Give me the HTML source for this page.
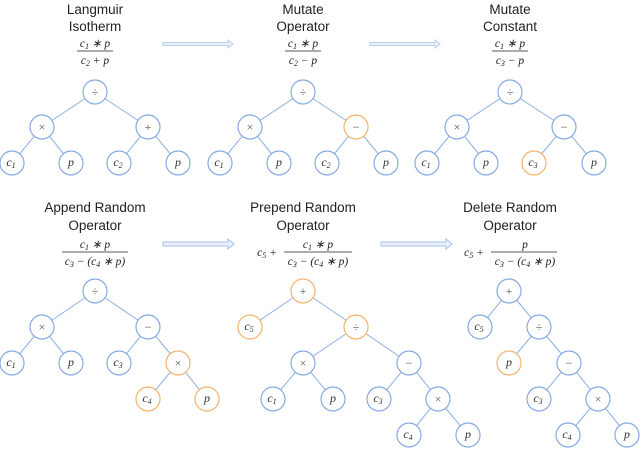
<!DOCTYPE html>
<html><head><meta charset="utf-8"><style>
html,body{margin:0;padding:0;background:#fff;width:640px;height:463px;overflow:hidden}
svg{display:block}
.t{font-family:"Liberation Sans",sans-serif;font-size:13.5px;fill:#222;text-anchor:middle}
.m{font-family:"Liberation Serif",serif;font-style:italic;font-size:11.5px;fill:#222;text-anchor:middle}
.o{font-family:"Liberation Serif",serif;font-size:12px;fill:#555;text-anchor:middle}
.e{stroke:#8fb0e6;stroke-width:1}
.b{fill:#fff;stroke:#86a9e4;stroke-width:1.2}
.r{fill:#fff;stroke:#f5b36e;stroke-width:1.2}
.l{font-family:"Liberation Serif",serif;font-style:italic;font-size:12px;fill:#333;text-anchor:middle}
.s{font-size:8px}
.a{fill:#eaf0fb;stroke:#a9c2ea;stroke-width:1}
</style></head><body>
<svg width="640" height="463" viewBox="0 0 640 463" xmlns="http://www.w3.org/2000/svg">
<text class="t" x="95" y="14">Langmuir</text><text class="t" x="95" y="31">Isotherm</text>
<text class="t" x="303" y="14">Mutate</text><text class="t" x="303" y="31">Operator</text>
<text class="t" x="510" y="14">Mutate</text><text class="t" x="510" y="31">Constant</text>
<text class="t" x="95" y="212">Append Random</text><text class="t" x="95" y="230">Operator</text>
<text class="t" x="303" y="212">Prepend Random</text><text class="t" x="303" y="230">Operator</text>
<text class="t" x="510" y="212">Delete Random</text><text class="t" x="510" y="230">Operator</text>
<g>
<text class="m" x="95" y="47">c<tspan class="s" dy="2">1</tspan><tspan dy="-2"> ∗ p</tspan></text>
<line x1="77" y1="51" x2="113" y2="51" stroke="#222" stroke-width="0.8"/>
<text class="m" x="95" y="64">c<tspan class="s" dy="2">2</tspan><tspan dy="-2"> + p</tspan></text>
<text class="m" x="303" y="47">c<tspan class="s" dy="2">1</tspan><tspan dy="-2"> ∗ p</tspan></text>
<line x1="285" y1="51" x2="321" y2="51" stroke="#222" stroke-width="0.8"/>
<text class="m" x="303" y="64">c<tspan class="s" dy="2">2</tspan><tspan dy="-2"> − p</tspan></text>
<text class="m" x="510" y="47">c<tspan class="s" dy="2">1</tspan><tspan dy="-2"> ∗ p</tspan></text>
<line x1="492" y1="51" x2="528" y2="51" stroke="#222" stroke-width="0.8"/>
<text class="m" x="510" y="64">c<tspan class="s" dy="2">3</tspan><tspan dy="-2"> − p</tspan></text>

<text class="m" x="95" y="248">c<tspan class="s" dy="2">1</tspan><tspan dy="-2"> ∗ p</tspan></text>
<line x1="62" y1="252" x2="128" y2="252" stroke="#222" stroke-width="0.8"/>
<text class="m" x="95" y="265">c<tspan class="s" dy="2">3</tspan><tspan dy="-2"> − (c</tspan><tspan class="s" dy="2">4</tspan><tspan dy="-2"> ∗ p)</tspan></text>

<text class="m" x="267" y="256">c<tspan class="s" dy="2">5</tspan><tspan dy="-2"> +</tspan></text>
<text class="m" x="318" y="248">c<tspan class="s" dy="2">1</tspan><tspan dy="-2"> ∗ p</tspan></text>
<line x1="284" y1="252" x2="352" y2="252" stroke="#222" stroke-width="0.8"/>
<text class="m" x="318" y="265">c<tspan class="s" dy="2">3</tspan><tspan dy="-2"> − (c</tspan><tspan class="s" dy="2">4</tspan><tspan dy="-2"> ∗ p)</tspan></text>

<text class="m" x="474" y="256">c<tspan class="s" dy="2">5</tspan><tspan dy="-2"> +</tspan></text>
<text class="m" x="525" y="248">p</text>
<line x1="491" y1="252" x2="557" y2="252" stroke="#222" stroke-width="0.8"/>
<text class="m" x="525" y="265">c<tspan class="s" dy="2">3</tspan><tspan dy="-2"> − (c</tspan><tspan class="s" dy="2">4</tspan><tspan dy="-2"> ∗ p)</tspan></text>
</g>
<path class="a" d="M163 42.5 H228 V40 L233 44 L228 48 V45.5 H163 Z" opacity="0.8"/>
<path class="a" d="M370 42.5 H435 V40 L440 44 L435 48 V45.5 H370 Z" opacity="0.8"/>
<path class="a" d="M163 242 H228 V239 L234 244 L228 249 V246 H163 Z"/>
<path class="a" d="M381 242 H446 V239 L452 244 L446 249 V246 H381 Z"/>

<g class="e">
<line x1="95" y1="92" x2="42" y2="127"/><line x1="95" y1="92" x2="148" y2="127"/>
<line x1="42" y1="127" x2="12" y2="163"/><line x1="42" y1="127" x2="71" y2="163"/>
<line x1="148" y1="127" x2="119" y2="163"/><line x1="148" y1="127" x2="178" y2="163"/>
<line x1="303" y1="92" x2="250" y2="127"/><line x1="303" y1="92" x2="356" y2="127"/>
<line x1="250" y1="127" x2="220" y2="163"/><line x1="250" y1="127" x2="279" y2="163"/>
<line x1="356" y1="127" x2="327" y2="163"/><line x1="356" y1="127" x2="386" y2="163"/>
<line x1="510" y1="92" x2="457" y2="127"/><line x1="510" y1="92" x2="564" y2="127"/>
<line x1="457" y1="127" x2="427" y2="163"/><line x1="457" y1="127" x2="486" y2="163"/>
<line x1="564" y1="127" x2="534" y2="163"/><line x1="564" y1="127" x2="594" y2="163"/>
<line x1="95" y1="291" x2="42" y2="327"/><line x1="95" y1="291" x2="148" y2="327"/>
<line x1="42" y1="327" x2="12" y2="363"/><line x1="42" y1="327" x2="71" y2="363"/>
<line x1="148" y1="327" x2="119" y2="363"/><line x1="148" y1="327" x2="178" y2="363"/>
<line x1="178" y1="363" x2="148" y2="399"/><line x1="178" y1="363" x2="207" y2="399"/>
<line x1="303" y1="291" x2="250" y2="327"/><line x1="303" y1="291" x2="356" y2="327"/>
<line x1="356" y1="327" x2="303" y2="363"/><line x1="356" y1="327" x2="409" y2="363"/>
<line x1="303" y1="363" x2="273" y2="399"/><line x1="303" y1="363" x2="333" y2="399"/>
<line x1="409" y1="363" x2="379" y2="399"/><line x1="409" y1="363" x2="438" y2="399"/>
<line x1="438" y1="399" x2="409" y2="435"/><line x1="438" y1="399" x2="468" y2="435"/>
<line x1="509" y1="291" x2="480" y2="327"/><line x1="509" y1="291" x2="539" y2="327"/>
<line x1="539" y1="327" x2="509" y2="363"/><line x1="539" y1="327" x2="569" y2="363"/>
<line x1="569" y1="363" x2="539" y2="399"/><line x1="569" y1="363" x2="598" y2="399"/>
<line x1="598" y1="399" x2="568" y2="435"/><line x1="598" y1="399" x2="627" y2="435"/>
</g>

<circle class="b" cx="95" cy="92" r="12"/><text class="o" x="95" y="96">÷</text>
<circle class="b" cx="42" cy="127" r="12"/><text class="o" x="42" y="131">×</text>
<circle class="b" cx="148" cy="127" r="12"/><text class="o" x="148" y="131">+</text>
<circle class="b" cx="12" cy="163" r="12"/><text class="l" x="11" y="166">c<tspan class="s" dy="2">1</tspan></text>
<circle class="b" cx="71" cy="163" r="12"/><text class="l" x="71" y="166">p</text>
<circle class="b" cx="119" cy="163" r="12"/><text class="l" x="118" y="166">c<tspan class="s" dy="2">2</tspan></text>
<circle class="b" cx="178" cy="163" r="12"/><text class="l" x="178" y="166">p</text>
<circle class="b" cx="303" cy="92" r="12"/><text class="o" x="303" y="96">÷</text>
<circle class="b" cx="250" cy="127" r="12"/><text class="o" x="250" y="131">×</text>
<circle class="r" cx="356" cy="127" r="12"/><text class="o" x="356" y="131">−</text>
<circle class="b" cx="220" cy="163" r="12"/><text class="l" x="219" y="166">c<tspan class="s" dy="2">1</tspan></text>
<circle class="b" cx="279" cy="163" r="12"/><text class="l" x="279" y="166">p</text>
<circle class="b" cx="327" cy="163" r="12"/><text class="l" x="326" y="166">c<tspan class="s" dy="2">2</tspan></text>
<circle class="b" cx="386" cy="163" r="12"/><text class="l" x="386" y="166">p</text>
<circle class="b" cx="510" cy="92" r="12"/><text class="o" x="510" y="96">÷</text>
<circle class="b" cx="457" cy="127" r="12"/><text class="o" x="457" y="131">×</text>
<circle class="b" cx="564" cy="127" r="12"/><text class="o" x="564" y="131">−</text>
<circle class="b" cx="427" cy="163" r="12"/><text class="l" x="426" y="166">c<tspan class="s" dy="2">1</tspan></text>
<circle class="b" cx="486" cy="163" r="12"/><text class="l" x="486" y="166">p</text>
<circle class="r" cx="534" cy="163" r="12"/><text class="l" x="533" y="166">c<tspan class="s" dy="2">3</tspan></text>
<circle class="b" cx="594" cy="163" r="12"/><text class="l" x="594" y="166">p</text>
<circle class="b" cx="95" cy="291" r="12"/><text class="o" x="95" y="295">÷</text>
<circle class="b" cx="42" cy="327" r="12"/><text class="o" x="42" y="331">×</text>
<circle class="b" cx="148" cy="327" r="12"/><text class="o" x="148" y="331">−</text>
<circle class="b" cx="12" cy="363" r="12"/><text class="l" x="11" y="366">c<tspan class="s" dy="2">1</tspan></text>
<circle class="b" cx="71" cy="363" r="12"/><text class="l" x="71" y="366">p</text>
<circle class="b" cx="119" cy="363" r="12"/><text class="l" x="118" y="366">c<tspan class="s" dy="2">3</tspan></text>
<circle class="r" cx="178" cy="363" r="12"/><text class="o" x="178" y="367">×</text>
<circle class="r" cx="148" cy="399" r="12"/><text class="l" x="147" y="402">c<tspan class="s" dy="2">4</tspan></text>
<circle class="r" cx="207" cy="399" r="12"/><text class="l" x="207" y="402">p</text>
<circle class="r" cx="303" cy="291" r="12"/><text class="o" x="303" y="295">+</text>
<circle class="r" cx="250" cy="327" r="12"/><text class="l" x="249" y="330">c<tspan class="s" dy="2">5</tspan></text>
<circle class="r" cx="356" cy="327" r="12"/><text class="o" x="356" y="331">÷</text>
<circle class="b" cx="303" cy="363" r="12"/><text class="o" x="303" y="367">×</text>
<circle class="b" cx="409" cy="363" r="12"/><text class="o" x="409" y="367">−</text>
<circle class="b" cx="273" cy="399" r="12"/><text class="l" x="272" y="402">c<tspan class="s" dy="2">1</tspan></text>
<circle class="b" cx="333" cy="399" r="12"/><text class="l" x="333" y="402">p</text>
<circle class="b" cx="379" cy="399" r="12"/><text class="l" x="378" y="402">c<tspan class="s" dy="2">3</tspan></text>
<circle class="b" cx="438" cy="399" r="12"/><text class="o" x="438" y="403">×</text>
<circle class="b" cx="409" cy="435" r="12"/><text class="l" x="408" y="438">c<tspan class="s" dy="2">4</tspan></text>
<circle class="b" cx="468" cy="435" r="12"/><text class="l" x="468" y="438">p</text>
<circle class="b" cx="509" cy="291" r="12"/><text class="o" x="509" y="295">+</text>
<circle class="b" cx="480" cy="327" r="12"/><text class="l" x="479" y="330">c<tspan class="s" dy="2">5</tspan></text>
<circle class="b" cx="539" cy="327" r="12"/><text class="o" x="539" y="331">÷</text>
<circle class="r" cx="509" cy="363" r="12"/><text class="l" x="509" y="366">p</text>
<circle class="b" cx="569" cy="363" r="12"/><text class="o" x="569" y="367">−</text>
<circle class="b" cx="539" cy="399" r="12"/><text class="l" x="538" y="402">c<tspan class="s" dy="2">3</tspan></text>
<circle class="b" cx="598" cy="399" r="12"/><text class="o" x="598" y="403">×</text>
<circle class="b" cx="568" cy="435" r="12"/><text class="l" x="567" y="438">c<tspan class="s" dy="2">4</tspan></text>
<circle class="b" cx="627" cy="435" r="12"/><text class="l" x="627" y="438">p</text>
<text x="0" y="473" font-family="Liberation Serif,serif" font-size="12" fill="#222">Figure 1: Illustrative examples of mutation operators applied to the Langmuir isotherm tree, showing each modification and resulting formula.</text>
</svg>
</body></html>
